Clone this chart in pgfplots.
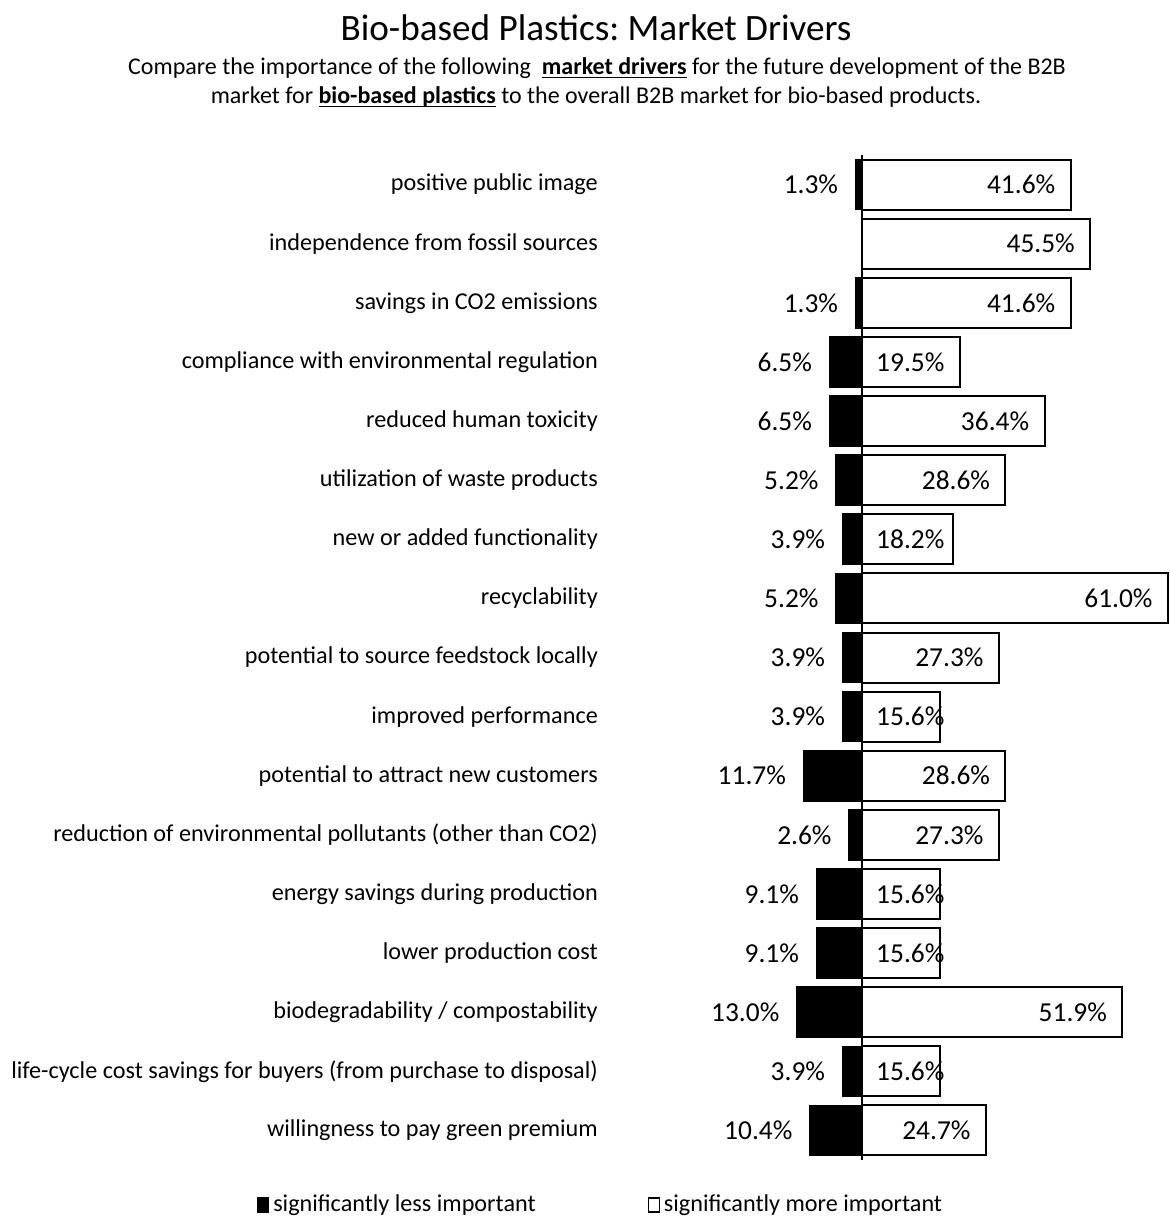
\documentclass[border=0pt]{standalone}
\usepackage{fontspec}
\setmainfont{Carlito}
\usepackage{pgfplots}
\pgfplotsset{compat=1.18}
\frenchspacing
\newcommand{\ul}[1]{\setbox0\hbox{#1}\rlap{\rule[-1.6pt]{\wd0}{0.7pt}}\box0\relax}
\begin{document}
\begin{tikzpicture}
\path[use as bounding box] (0,0) rectangle (584.5pt,608.5pt);
\node[anchor=base, font=\fontsize{18.6}{21}\selectfont] at (298pt,588pt) {Bio-based Plastics: Market Drivers};
\node[anchor=base, font=\fontsize{12}{14}\selectfont] at (298.5pt,571pt) {Compare the importance of the following \ \ul{\textbf{market drivers}} for the future development of the B2B};
\node[anchor=base, font=\fontsize{12}{14}\selectfont] at (298pt,556.5pt) {market for \ul{\textbf{bio-based plastics}} to the overall B2B market for bio-based products.};
\begin{axis}[
  at={(299.1pt,28.5pt)}, anchor=south west,
  scale only axis, width=285.4pt, height=502.5pt,
  bar width=0.846, bar shift=0pt,
  xmin=-52.6, xmax=61.2, ymin=-0.5, ymax=16.5, y dir=reverse,
  axis x line=none, axis y line*=left, y axis line style={draw=none},
  major tick length=0pt,
  ytick={0,...,16},
  yticklabels={positive public image, independence from fossil sources, savings in CO2 emissions, compliance with environmental regulation, reduced human toxicity, utilization of waste products, new or added functionality, recyclability, potential to source feedstock locally, improved performance, potential to attract new customers, reduction of environmental pollutants (other than CO2), energy savings during production, lower production cost, biodegradability / compostability, life-cycle cost savings for buyers (from purchase to disposal), willingness to pay green premium},
  yticklabel style={font=\fontsize{12.1}{14}\selectfont, inner sep=0pt},
  legend columns=2,
  legend style={draw=none, at={(0.006,-0.0448)}, anchor=center, font=\fontsize{12.1}{14}\selectfont,
    /tikz/every even column/.append style={column sep=54pt}},
  legend image code/.code={\draw[#1, line width=0.6pt] (0pt,-3.5pt) rectangle (5.5pt,3.5pt);},
  clip=false
]
\addplot[xbar, fill=black, draw=black, line width=0.8pt] coordinates {
(-1.3,0) (0,1) (-1.3,2) (-6.5,3) (-6.5,4) (-5.2,5) (-3.9,6) (-5.2,7) (-3.9,8) (-3.9,9) (-11.7,10) (-2.6,11) (-9.1,12) (-9.1,13) (-13.0,14) (-3.9,15) (-10.4,16)};
\addlegendentry{significantly less important}
\addplot[xbar, fill=white, draw=black, line width=1pt] coordinates {
(41.6,0) (45.5,1) (41.6,2) (19.5,3) (36.4,4) (28.6,5) (18.2,6) (61.0,7) (27.3,8) (15.6,9) (28.6,10) (27.3,11) (15.6,12) (15.6,13) (51.9,14) (15.6,15) (24.7,16)};
\addlegendentry{significantly more important}
\draw[black, line width=0.7pt] (axis cs:0,-0.5) -- (axis cs:0,16.5);
\addplot[forget plot, draw=none, mark=none, nodes near coords, point meta=explicit symbolic,
  nodes near coords align=left,
  every node near coord/.append style={inner sep=0pt, font=\fontsize{13.7}{15}\selectfont}] coordinates {
(-4.7,0) [1.3\%] (-4.7,2) [1.3\%] (-9.9,3) [6.5\%] (-9.9,4) [6.5\%] (-8.6,5) [5.2\%] (-7.3,6) [3.9\%] (-8.6,7) [5.2\%] (-7.3,8) [3.9\%] (-7.3,9) [3.9\%] (-15.1,10) [11.7\%] (-6.0,11) [2.6\%] (-12.5,12) [9.1\%] (-12.5,13) [9.1\%] (-16.4,14) [13.0\%] (-7.3,15) [3.9\%] (-13.8,16) [10.4\%]};
\addplot[forget plot, draw=none, mark=none, nodes near coords, point meta=explicit symbolic,
  nodes near coords align=left,
  every node near coord/.append style={inner sep=0pt, font=\fontsize{13.7}{15}\selectfont}] coordinates {
(38.6,0) [41.6\%] (42.5,1) [45.5\%] (38.6,2) [41.6\%] (16.5,3) [19.5\%] (33.4,4) [36.4\%] (25.6,5) [28.6\%] (16.5,6) [18.2\%] (58.0,7) [61.0\%] (24.3,8) [27.3\%] (16.5,9) [15.6\%] (25.6,10) [28.6\%] (24.3,11) [27.3\%] (16.5,12) [15.6\%] (16.5,13) [15.6\%] (48.9,14) [51.9\%] (16.5,15) [15.6\%] (21.7,16) [24.7\%]};
\end{axis}
\end{tikzpicture}
\end{document}
